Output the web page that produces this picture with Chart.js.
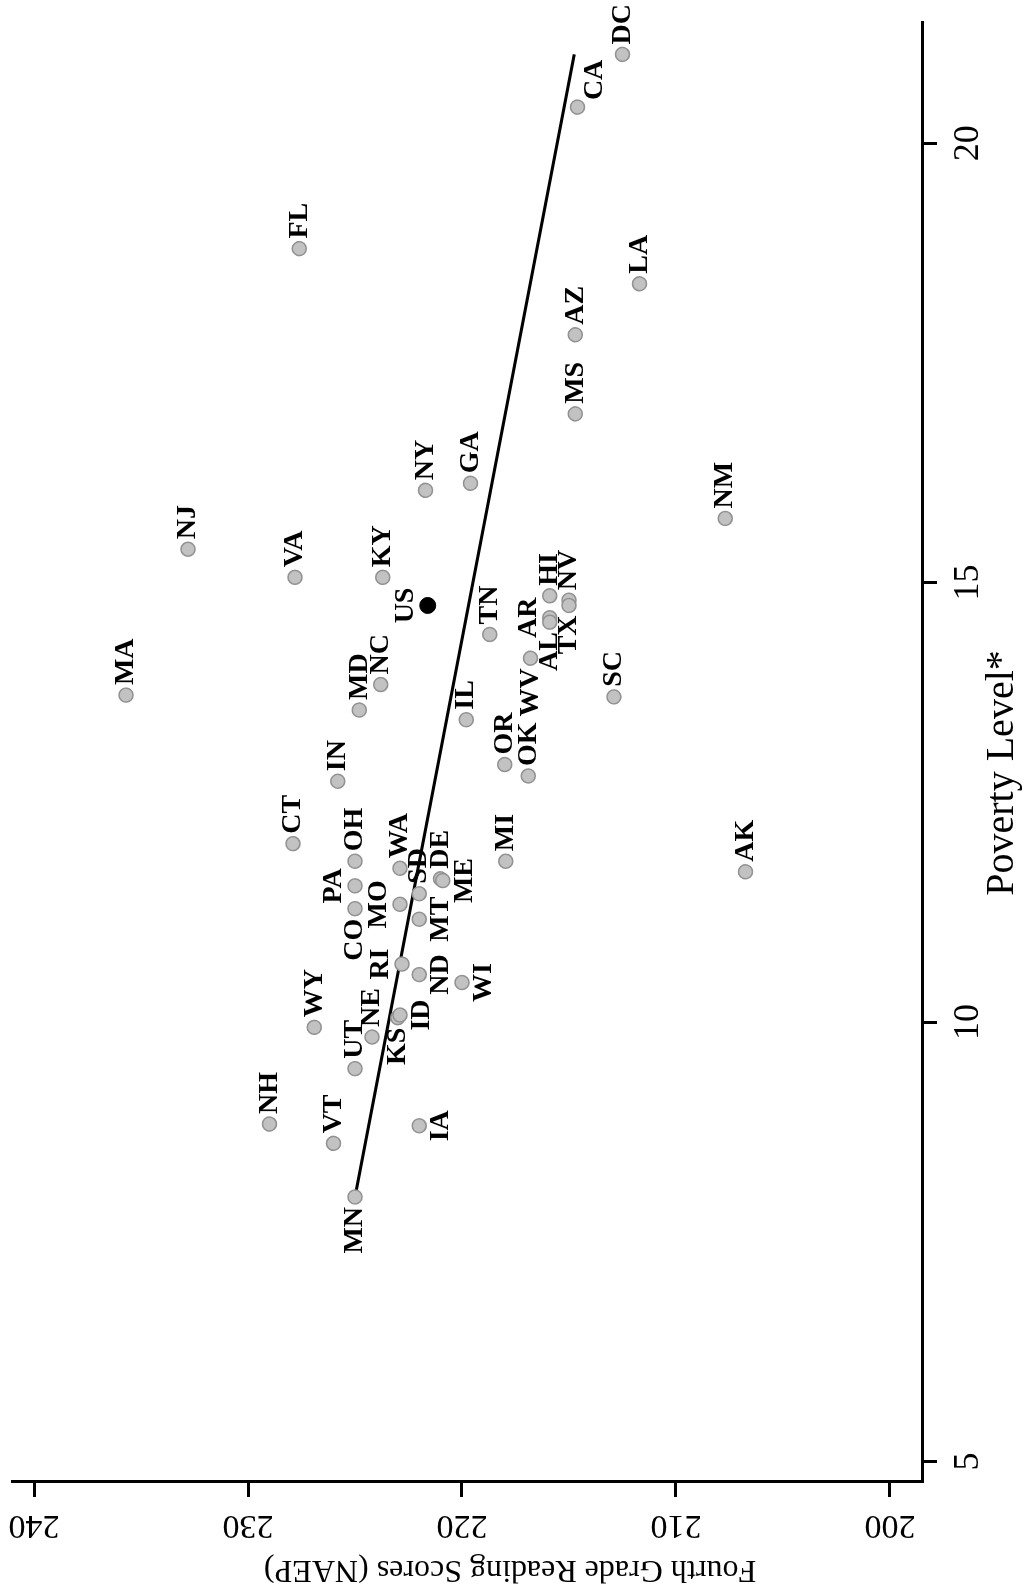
<!DOCTYPE html>
<html>
<head>
<meta charset="utf-8">
<script src="https://cdn.jsdelivr.net/npm/chart.js@4.4.1/dist/chart.umd.min.js"></script>
<style>
html, body { margin: 0; padding: 0; background: #fff; overflow: hidden; }
/* the figure is printed turned a quarter turn, so the chart is drawn upright and the box is rotated */
#wrap { position: absolute; left: 0; top: 1593px; width: 1593px; height: 1026px;
        transform-origin: 0 0; transform: rotate(-90deg); }
</style>
</head>
<body>
<div id="wrap"><canvas id="chart" width="1593" height="1026"></canvas></div>
<script>
const states = ['MA','NJ','NH','FL','CT','VA','WY','VT','IN','UT',
                'MN','OH','PA','CO','MD','NE','KY','NC','KS','ID',
                'WA','MO','RI','IA','SD','MT','ND','NY','DE','ME',
                'WI','IL','GA','TN','OR','MI','OK','WV','AR','AL',
                'HI','NV','TX','MS','AZ','CA','SC','DC','LA','NM','AK'];
const poverty = [13.72, 15.38, 8.84, 18.80, 12.03, 15.06, 9.94, 8.62, 12.74, 9.47,
                 8.01, 11.83, 11.55, 11.29, 13.55, 9.83, 15.06, 13.84, 10.05, 10.08,
                 11.75, 11.34, 10.66, 8.82, 11.46, 11.17, 10.54, 16.05, 11.63, 11.61,
                 10.45, 13.44, 16.13, 14.41, 12.93, 11.83, 12.80, 14.14, 14.60, 14.55,
                 14.85, 14.80, 14.74, 16.92, 17.82, 20.41, 13.70, 21.01, 18.40, 15.73, 11.71];
const scores = [235.7, 232.8, 229.0, 227.6, 227.9, 227.8, 226.9, 226.0, 225.8, 225.0,
                225.0, 225.0, 225.0, 225.0, 224.8, 224.2, 223.7, 223.8, 223.0, 222.9,
                222.9, 222.9, 222.8, 222.0, 222.0, 222.0, 222.0, 221.7, 221.0, 220.9,
                220.0, 219.8, 219.6, 218.7, 218.0, 217.95, 216.9, 216.8, 215.9, 215.9,
                215.9, 215.0, 215.0, 214.7, 214.7, 214.6, 212.9, 212.5, 211.7, 207.7, 206.75];
const usPoverty = [14.74];
const usScore = [221.6];
const fitPoverty = [8.01, 21.01];
const fitScore = [225.0, 214.75];
const xTicks = [5, 10, 15, 20];
const yTicks = [200, 210, 220, 230, 240];
const xTitle = 'Poverty Level*';
const yTitle = 'Fourth Grade Reading Scores (NAEP)';

// where each state name sits: 3 right, 4 lower right, 9 left, 12 above, 6 below (default 3)
const labelPos = { MN: 9, CO: 9, KS: 9, WV: 9, AL: 9, TX: 9,
                   PA: 12, MO: 12, RI: 12, AR: 12, US: 12,
                   ID: 6, ME: 6, MT: 6, ND: 6, WI: 6, IA: 6, CA: 4 };

const serif = '"Liberation Serif", "DejaVu Serif", serif';

function putLabel(ctx, text, px, py, r) {
    const pos = labelPos[text] || 3;
    const gap = 3;
    let x = px, y = py;
    if (pos === 3) { ctx.textAlign = 'left'; ctx.textBaseline = 'middle'; x += r + gap; }
    else if (pos === 4) { ctx.textAlign = 'left'; ctx.textBaseline = 'middle'; x += r; y += 17; }
    else if (pos === 9) { ctx.textAlign = 'right'; ctx.textBaseline = 'middle'; x -= r + gap; }
    else if (pos === 12) { ctx.textAlign = 'center'; ctx.textBaseline = 'bottom'; y -= r; }
    else { ctx.textAlign = 'center'; ctx.textBaseline = 'top'; y += r + 1; }
    ctx.fillText(text, x, y);
}

const labelPlugin = {
    id: 'stateLabels',
    afterDraw(chart) {
        const ctx = chart.ctx;
        ctx.save();
        ctx.fillStyle = '#000';
        ctx.font = 'bold 28px ' + serif;
        chart.getDatasetMeta(0).data.forEach((pt, i) => putLabel(ctx, states[i], pt.x, pt.y, 7));
        chart.getDatasetMeta(1).data.forEach(pt => putLabel(ctx, 'US', pt.x, pt.y, 8));

        // score tick labels and title run along the axis
        const ys = chart.scales.y;
        ctx.font = '34px ' + serif;
        ctx.textAlign = 'center';
        ctx.textBaseline = 'middle';
        yTicks.forEach(v => {
            ctx.save();
            ctx.translate(ys.left + 68, ys.getPixelForValue(v));
            ctx.rotate(-Math.PI / 2);
            ctx.fillText(String(v), 0, 0);
            ctx.restore();
        });
        ctx.save();
        ctx.font = '32px ' + serif;
        ctx.translate(ys.left + 24, 510);
        ctx.rotate(-Math.PI / 2);
        ctx.fillText(yTitle, 0, 0);
        ctx.restore();

        ctx.font = '40px ' + serif;
        ctx.fillText(xTitle, 820, 1002);
        ctx.restore();
    }
};

const axisLines = {
    display: true, drawOnChartArea: false, drawTicks: true,
    tickLength: 15, color: '#000', lineWidth: 3
};

new Chart(document.getElementById('chart'), {
    type: 'scatter',
    data: {
        datasets: [{
            data: states.map((s, i) => ({ x: poverty[i], y: scores[i] })),
            pointRadius: 7,
            backgroundColor: '#c2c2c2',
            borderColor: '#929292',
            borderWidth: 1.5
        }, {
            data: usPoverty.map((p, i) => ({ x: p, y: usScore[i] })),
            pointRadius: 8,
            backgroundColor: '#000',
            borderColor: '#000',
            borderWidth: 1
        }, {
            type: 'line',
            data: fitPoverty.map((p, i) => ({ x: p, y: fitScore[i] })),
            borderColor: '#000',
            borderWidth: 3,
            pointRadius: 0,
            fill: false
        }]
    },
    options: {
        responsive: false,
        animation: false,
        layout: { padding: { top: 12, right: 23, left: 0, bottom: 0 } },
        plugins: { legend: { display: false }, tooltip: { enabled: false } },
        scales: {
            x: {
                type: 'linear',
                min: 4.767,
                max: 21.367,
                afterBuildTicks: s => { s.ticks = xTicks.map(v => ({ value: v })); },
                afterFit: s => { s.height = 104; },
                grid: axisLines,
                border: { display: true, color: '#000', width: 3 },
                ticks: {
                    font: { family: serif, size: 36 },
                    color: '#000',
                    padding: 10,
                    maxRotation: 0,
                    autoSkip: false
                }
            },
            y: {
                type: 'linear',
                min: 198.5,
                max: 241.03,
                afterBuildTicks: s => { s.ticks = yTicks.map(v => ({ value: v })); },
                afterFit: s => { s.width = 111; },
                grid: axisLines,
                border: { display: true, color: '#000', width: 3 },
                ticks: { display: false }
            }
        }
    },
    plugins: [labelPlugin]
});
</script>
</body>
</html>
